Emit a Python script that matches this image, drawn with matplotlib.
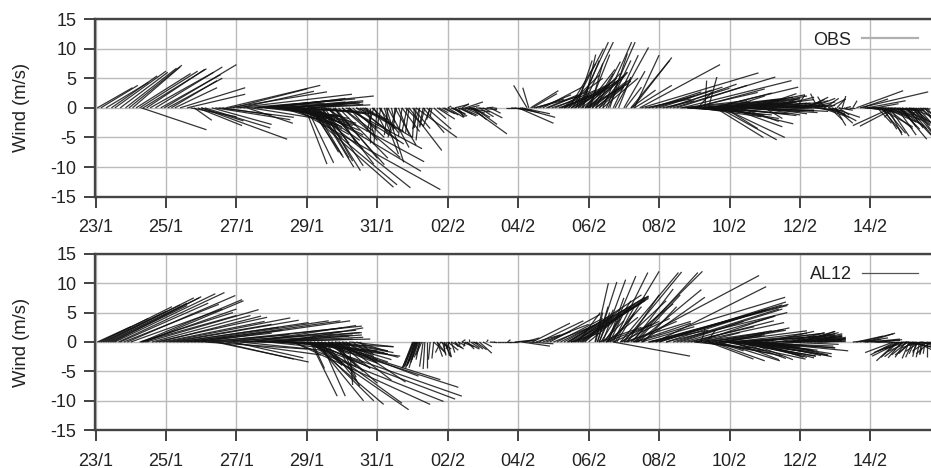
import matplotlib
matplotlib.use("Agg")
import matplotlib.pyplot as plt

plt.rcParams['font.family'] = ['Liberation Sans', 'DejaVu Sans']
plt.rcParams['axes.unicode_minus'] = False

# days since 23/1
tick_days = [0, 2, 4, 6, 8, 10, 12, 14, 16, 18, 20, 22]
tick_labels = ['23/1', '25/1', '27/1', '29/1', '31/1', '02/2',
               '04/2', '06/2', '08/2', '10/2', '12/2', '14/2']
wind_ticks = [-15, -10, -5, 0, 5, 10, 15]

# =============================
# OBS sticks: start day, end day, v (m/s)
# =============================
obs_start = [
    0.05, 0.15, 0.3, 0.45, 0.55, 0.7, 0.85, 0.95, 1.05, 1.15,
    1.25, 1.35, 1.45, 1.55, 1.7, 1.85, 1.95, 2.05, 2.15, 2.25,
    2.4, 2.6, 1.3, 2.8, 2.7, 2.9, 3.0, 3.1, 3.0, 3.3,
    3.4, 3.5, 3.6, 3.7, 3.8, 3.9, 4.0, 4.1, 4.2, 4.3,
    4.4, 4.5, 4.6, 4.7, 4.8, 4.9, 5.0, 5.1, 5.2, 5.3,
    5.4, 5.5, 5.6, 5.7, 5.8, 5.9, 6.0, 6.1, 5.3, 5.5,
    5.95, 6.0, 6.1, 6.15, 6.2, 6.3, 6.35, 6.4, 6.45, 6.5,
    5.9, 5.95, 6.65, 6.1, 6.75, 6.8, 5.6, 6.9, 6.2, 6.5,
    7.0, 7.1, 7.15, 7.2, 7.3, 7.4, 7.5, 7.55, 7.6, 7.65,
    7.7, 7.8, 7.85, 7.9, 8.0, 8.05, 8.1, 8.2, 8.25, 8.3,
    8.4, 8.5, 8.55, 8.6, 8.7, 8.8, 8.85, 8.9, 9.0, 9.05,
    9.1, 9.2, 9.3, 9.35, 9.4, 9.5, 9.55, 9.6, 9.7, 9.75,
    9.85, 10.0, 10.1, 10.15, 10.2, 10.3, 10.35, 10.4, 10.5, 10.55,
    10.6, 10.65, 10.7, 10.75, 10.8, 10.9, 11.0, 11.1, 11.2, 11.3,
    11.65, 11.8, 11.9, 12.0, 12.05, 12.1, 12.25, 12.3, 12.35, 12.4,
    12.45, 12.5, 12.6, 12.7, 12.8, 12.85, 12.95, 13.05, 13.15, 13.25,
    13.35, 13.45, 13.55, 13.65, 13.7, 13.75, 13.8, 13.85, 13.9, 13.95,
    14.0, 14.05, 14.1, 14.2, 14.3, 14.4, 14.5, 14.55, 14.6, 14.7,
    14.75, 14.85, 15.3, 15.0, 15.05, 15.25, 15.2, 15.2, 15.3, 15.45,
    15.5, 15.6, 15.7, 15.8, 15.9, 16.0, 16.1, 16.2, 16.3, 16.4,
    16.5, 16.65, 16.7, 16.8, 16.9, 17.0, 17.1, 17.2, 17.3, 17.4,
    17.5, 17.55, 17.6, 17.7, 17.75, 17.8, 17.85, 17.9, 17.95, 18.0,
    18.1, 18.2, 18.3, 18.35, 18.4, 18.5, 18.6, 18.7, 18.75, 18.8,
    18.9, 19.0, 19.1, 19.2, 19.3, 19.4, 19.5, 19.6, 19.7, 19.8,
    19.9, 20.0, 20.1, 20.2, 20.3, 20.4, 20.5, 20.6, 20.7, 20.8,
    20.85, 20.9, 21.0, 21.05, 21.1, 21.2, 21.25, 21.3, 21.4, 21.5,
    21.6, 21.7, 21.75, 21.8, 21.9, 22.0, 22.1, 22.15, 22.6, 22.7,
    22.2, 22.25, 22.3, 22.35, 22.4, 22.45, 22.5, 22.55, 22.65, 22.75,
    22.8, 22.85, 22.9, 23.0, 23.05, 23.1, 23.15, 23.2, 23.25, 23.3,
    23.35, 23.4, 23.45, 23.5, 23.55, 23.6, 22.0, 22.05, 21.85, 21.95,
    4.6, 4.8, 5.0, 5.2, 5.4, 5.6, 5.8, 6.0, 6.2, 6.4,
    5.6, 5.8, 6.0, 6.2, 6.4, 6.6, 6.8, 7.0, 7.2, 7.4,
    16.6, 16.8, 17.0, 17.2, 17.4, 17.6, 17.8, 18.0, 18.2, 18.4,
    13.9, 14.0, 14.1, 14.2, 14.3, 14.4, 13.5, 13.6, 13.2, 13.3,
    9.9, 10.0, 10.1, 10.2, 10.3, 10.4, 10.45, 10.5, 10.6, 10.7,
    16.8, 17.0, 17.1, 17.2, 17.3, 17.4, 17.5, 17.6, 17.7, 17.8,
    17.9, 18.0, 18.1, 18.2, 18.3, 18.4, 18.5, 18.6, 18.7, 18.8,
    13.3, 13.4, 13.5, 13.6, 13.7, 13.8, 13.9, 14.0, 14.1, 14.2,
    5.0, 5.2, 5.4, 5.5, 5.6, 5.7, 5.8, 5.9, 6.0, 6.1,
    22.3, 22.4, 22.5, 22.6, 22.7, 22.8, 22.9, 23.0, 23.1, 23.2,
    8.1, 8.3, 8.5, 8.7, 8.9, 9.1, 9.3, 9.5, 9.2, 7.9,
    20.0, 20.2, 20.4, 20.6, 20.8, 20.9, 21.0, 21.1, 20.5, 20.7,
]
obs_end = [
    1.05, 1.2, 1.5, 1.75, 2.0, 2.05, 2.3, 2.45, 2.4, 2.7,
    2.9, 3.15, 3.1, 3.35, 3.6, 3.55, 4.0, 3.6, 3.45, 3.45,
    4.25, 4.25, 3.15, 3.3, 4.0, 4.16, 4.2, 4.96, 5.44, 5.0,
    5.53, 5.63, 5.0, 6.38, 6.57, 6.0, 7.28, 6.2, 7.37, 5.6,
    6.3, 7.0, 7.9, 6.6, 6.8, 6.4, 7.1, 6.9, 7.4, 6.8,
    7.5, 7.0, 7.3, 7.2, 7.8, 7.0, 7.6, 7.4, 6.6, 6.8,
    6.57, 6.76, 7.04, 6.9, 7.0, 7.33, 7.2, 7.52, 7.3, 7.6,
    8.46, 8.56, 7.9, 8.94, 8.2, 8.0, 9.79, 8.3, 9.24, 9.33,
    8.65, 9.27, 8.75, 8.0, 8.2, 8.4, 8.6, 9.0, 8.75, 8.5,
    7.9, 7.8, 8.5, 8.3, 7.9, 8.6, 8.6, 8.4, 8.75, 8.9,
    8.5, 9.1, 8.3, 8.9, 9.2, 9.3, 8.7, 9.83, 9.5, 9.0,
    10.26, 9.0, 9.9, 9.2, 10.1, 9.3, 9.5, 9.95, 10.2, 10.0,
    10.2, 10.1, 10.4, 10.5, 10.6, 10.45, 10.8, 10.6, 11.0, 11.2,
    10.9, 11.68, 11.1, 11.4, 11.4, 11.3, 11.55, 11.3, 11.5, 11.4,
    11.9, 12.4, 12.6, 13.0, 13.05, 12.9, 11.87, 12.13, 13.14, 13.1,
    13.8, 13.3, 13.5, 13.85, 13.7, 14.0, 14.1, 14.2, 13.9, 14.4,
    14.3, 14.2, 14.42, 14.1, 14.56, 14.3, 14.7, 14.2, 14.75, 14.9,
    14.6, 14.4, 15.0, 14.9, 15.0, 15.22, 15.32, 15.2, 15.1, 15.41,
    15.7, 15.2, 16.0, 15.6, 15.5, 16.36, 16.3, 15.9, 16.36, 17.73,
    18.82, 16.9, 17.0, 17.2, 17.5, 17.8, 17.0, 18.0, 18.2, 19.3,
    18.5, 19.76, 18.6, 18.2, 18.8, 19.0, 17.5, 18.9, 17.35, 17.64,
    19.95, 19.2, 18.96, 19.34, 19.5, 19.57, 18.8, 19.81, 19.0, 19.5,
    19.8, 20.14, 19.4, 20.0, 20.2, 19.6, 20.4, 19.9, 20.3, 20.0,
    20.2, 19.5, 20.75, 20.4, 19.9, 20.3, 20.4, 20.6, 20.8, 20.9,
    20.14, 20.6, 20.7, 20.8, 21.0, 21.0, 20.8, 21.28, 21.1, 21.3,
    21.2, 21.7, 21.3, 21.28, 21.5, 21.3, 21.4, 21.45, 21.55, 21.62,
    22.93, 23.64, 22.5, 22.6, 23.0, 22.4, 23.5, 22.8, 21.5, 21.7,
    22.6, 23.2, 22.9, 22.75, 23.0, 23.2, 22.9, 23.1, 22.4, 23.3,
    23.4, 23.6, 23.3, 23.72, 23.5, 23.8, 23.7, 23.72, 23.6, 23.8,
    23.8, 23.9, 24.0, 24.0, 24.0, 24.0, 23.5, 23.7, 23.4, 23.3,
    6.5, 7.0, 7.3, 7.1, 7.5, 7.6, 7.7, 7.8, 7.6, 7.7,
    6.9, 7.2, 7.0, 7.5, 7.2, 7.6, 7.4, 7.9, 8.0, 8.3,
    18.5, 18.9, 19.2, 19.4, 19.6, 19.6, 19.8, 20.0, 20.0, 20.2,
    15.1, 15.2, 14.7, 15.0, 15.1, 15.4, 14.4, 14.6, 14.3, 14.5,
    10.3, 10.45, 10.5, 10.55, 10.7, 10.85, 10.9, 11.0, 11.05, 11.2,
    18.6, 18.8, 18.9, 19.2, 19.0, 19.4, 19.4, 19.5, 19.7, 19.9,
    19.9, 20.2, 20.0, 20.4, 20.2, 20.5, 20.6, 20.4, 20.7, 20.8,
    14.5, 14.6, 14.7, 14.9, 14.8, 15.0, 14.9, 15.1, 15.1, 15.2,
    6.3, 6.6, 6.8, 7.0, 7.2, 7.0, 7.4, 7.5, 7.3, 7.6,
    23.1, 23.3, 23.4, 23.5, 23.5, 23.6, 23.7, 23.7, 23.9, 23.9,
    8.0, 8.2, 8.45, 8.6, 8.8, 9.05, 9.2, 9.4, 9.1, 7.7,
    20.8, 21.0, 21.2, 21.4, 21.3, 21.6, 21.5, 21.4, 20.3, 20.5,
]
obs_v = [
    3.4, 3.8, 4.3, 5.4, 6.2, 6.0, 6.7, 7.2, 6.9, 5.8,
    6.2, 6.6, 6.5, 6.0, 6.9, 5.6, 7.3, 5.0, 4.6, 3.4,
    3.4, 2.3, -3.7, -2.1, -1.5, -3.0, -2.2, -3.4, -5.3, -2.8,
    -2.0, -1.6, -1.2, 3.8, 2.7, 3.2, 2.3, 2.8, 1.5, -2.6,
    -1.8, 1.3, 2.0, 1.2, -1.4, 1.0, 1.6, -1.3, 0.9, -2.0,
    0.8, -1.5, 1.0, -3.0, -1.0, -3.6, 0.6, -3.0, -2.5, -3.2,
    -9.5, -9.3, -8.4, -7.5, -8.0, -10.0, -8.5, -10.6, -9.0, -9.8,
    -13.4, -13.0, -9.5, -13.5, -9.6, -8.5, -13.8, -8.5, -10.7, -9.1,
    -8.4, -6.9, -6.1, -5.5, -5.0, -4.2, -5.6, -5.0, -4.0, -3.0,
    -4.5, -6.0, -3.5, -4.5, -6.2, -4.2, -7.8, -4.0, -9.2, -6.7,
    -2.5, -6.3, -5.0, -4.5, -4.0, -3.0, -4.0, -7.2, -3.5, -5.0,
    -5.0, -3.6, -4.2, -3.3, -3.6, -3.2, -1.5, -1.8, -1.9, -0.8,
    -1.0, 0.3, -0.8, -1.5, 0.6, -1.6, -1.4, 0.7, 1.0, -0.7,
    0.4, -4.4, -2.0, -2.8, -0.3, -1.5, -1.7, 0.1, -0.9, -0.1,
    0.0, -0.4, -0.8, -2.6, -1.6, -1.0, 3.8, 3.4, 2.9, 2.4,
    2.0, 1.5, 2.2, 3.6, 2.2, 2.8, 2.2, 3.0, 1.5, 5.0,
    5.5, 7.5, 10.0, 8.0, 11.1, 8.0, 11.1, 9.0, 6.5, 4.8,
    9.0, 7.5, 5.5, 7.8, 3.5, 11.1, 11.1, 8.0, 9.2, 8.9,
    10.2, 5.2, 8.9, 6.2, 3.5, 8.5, 8.0, 3.0, 3.8, 7.3,
    5.9, 1.5, 2.0, 2.7, 3.0, 3.5, 1.2, 3.3, 4.0, 5.2,
    3.8, 4.6, 1.0, -0.5, 2.6, 3.2, 2.7, -0.6, 4.6, 5.2,
    3.5, 2.5, -5.0, -5.4, 1.5, -5.0, -3.5, -2.7, 2.0, -3.2,
    0.8, 2.2, -2.3, 1.5, 0.5, 1.5, -0.5, 2.4, 0.8, -1.2,
    -1.0, -1.8, 0.3, 1.8, 1.5, 0.5, -0.2, 0.8, 0.3, 0.5,
    2.2, 0.2, 1.4, 1.8, 1.6, 0.4, -0.3, -1.0, 1.6, 1.5,
    -2.0, -1.6, -3.0, 1.5, -0.4, 2.0, -0.3, 0.2, 0.0, 1.2,
    2.9, 2.7, 1.5, -0.2, 1.2, -0.3, -0.4, 0.7, -3.0, -3.1,
    -2.6, -3.2, -4.2, -3.6, -4.3, -3.5, -4.6, -4.8, -1.6, -4.6,
    -3.6, -5.3, -3.2, -4.6, -3.4, -5.0, -2.8, -4.0, -2.0, -4.5,
    -3.0, -2.5, -3.5, -2.0, -4.0, -3.0, -0.5, -0.2, -0.9, -1.2,
    0.8, 0.5, -0.5, 1.0, -0.6, 1.2, -0.8, 0.5, 1.0, -1.0,
    -3.0, -4.5, -5.0, -5.5, -6.0, -7.0, -6.0, -4.0, -3.5, -2.0,
    1.2, 0.6, -1.2, 1.5, -1.0, 0.8, 1.8, -0.6, 1.2, 0.4,
    4.0, 4.5, 5.8, 3.6, 6.0, 5.0, 2.8, 3.5, 2.4, 3.2,
    -1.2, -1.6, -1.0, -1.4, -1.1, -1.3, -0.5, -1.4, -0.9, -1.6,
    -0.8, 0.5, -1.5, 0.9, -1.2, 1.4, -1.8, 0.6, -1.0, 1.0,
    -1.3, 0.8, 1.6, -0.5, 2.0, -0.8, 0.9, 1.4, 0.5, -0.6,
    3.8, 3.9, 4.4, 4.8, 5.0, 5.4, 5.8, 6.0, 4.6, 4.9,
    -1.0, -1.5, -2.0, -2.5, -1.8, -3.2, -2.6, -3.8, -3.0, -4.6,
    -1.5, -2.4, -2.0, -3.0, -2.2, -3.5, -2.4, -3.0, -1.8, -3.4,
    -3.0, -4.6, -3.8, -4.8, -4.2, -3.4, -3.0, -2.0, -5.5, -4.0,
    1.2, 1.0, -0.5, -1.6, -1.2, -2.2, -2.6, -1.2, 2.4, 1.9,
]

# =============================
# AL12 sticks: start day, end day, v (m/s)
# =============================
al12_start = [
    0.05, 0.1, 0.15, 0.2, 0.25, 0.3, 0.35, 0.4, 0.45, 0.5,
    0.55, 0.65, 0.7, 0.8, 0.9, 1.0, 1.3, 1.4, 1.25, 1.35,
    1.3, 1.45, 1.6, 1.7, 1.8, 1.9, 2.0, 2.1, 2.2, 2.3,
    2.4, 2.5, 2.6, 2.7, 2.8, 2.9, 3.0, 3.1, 3.2, 3.3,
    3.4, 3.5, 3.6, 3.7, 3.8, 3.9, 4.0, 4.1, 4.2, 4.3,
    4.4, 4.5, 4.6, 4.7, 4.8, 4.9, 5.0, 5.1, 5.2, 5.3,
    6.1, 6.4, 6.24, 6.2, 6.1, 6.3, 6.1, 5.6, 5.6, 5.9,
    6.0, 6.3, 6.4, 6.6, 6.7, 6.8, 6.9, 7.0, 7.1, 7.2,
    5.2, 5.4, 5.6, 5.8, 6.0, 6.15, 6.2, 6.3, 6.35, 6.5,
    6.6, 6.7, 6.8, 6.9, 7.0, 7.1, 7.2, 7.3, 7.4, 7.5,
    9.03, 9.05, 9.08, 9.1, 9.12, 9.15, 9.2, 9.4, 9.5, 9.6,
    9.7, 9.8, 9.85, 9.9, 9.95, 10.0, 10.05, 10.1, 10.2, 10.3,
    10.4, 10.5, 10.55, 10.6, 10.65, 10.7, 10.75, 10.8, 10.9, 11.0,
    11.1, 11.2, 11.3, 11.4, 11.5, 11.6, 11.7, 11.75, 11.9, 12.0,
    12.1, 12.2, 12.3, 12.4, 12.5, 12.6, 12.7, 12.8, 12.9, 13.0,
    13.1, 13.2, 13.3, 13.4, 13.5, 13.6, 13.7, 13.8, 13.9, 14.0,
    14.18, 14.25, 14.3, 14.4, 14.5, 14.55, 14.6, 14.7, 14.75, 14.8,
    13.4, 13.45, 13.5, 13.55, 13.6, 13.65, 13.7, 13.75, 13.8, 13.85,
    14.9, 15.0, 15.1, 15.2, 15.25, 15.3, 15.35, 15.4, 15.5, 15.55,
    15.27, 15.9, 15.35, 15.7, 16.0, 15.75, 15.8, 16.2, 14.7, 15.0,
    15.9, 16.0, 16.2, 16.4, 16.5, 16.6, 16.7, 16.8, 16.9, 17.0,
    17.05, 17.1, 17.2, 17.25, 17.3, 17.35, 17.4, 17.5, 17.6, 17.7,
    17.7, 17.8, 17.9, 18.0, 18.05, 18.1, 18.2, 18.3, 18.4, 18.5,
    18.6, 18.7, 18.8, 18.9, 19.0, 19.1, 19.2, 19.3, 19.4, 19.5,
    19.6, 19.7, 19.8, 19.9, 20.0, 20.1, 20.2, 20.3, 20.4, 20.5,
    17.0, 17.2, 17.4, 17.6, 17.8, 18.0, 18.2, 18.4, 18.6, 18.8,
    21.5, 21.6, 21.7, 21.8, 21.85, 21.9, 22.0, 22.1, 22.15, 22.2,
    22.65, 22.7, 22.75, 22.8, 22.85, 22.9, 22.95, 23.0, 23.05, 23.1,
    23.15, 23.2, 23.25, 23.3, 23.35, 23.4, 23.45, 23.5, 23.55, 23.6,
    23.0, 23.2, 23.3, 23.4, 23.5, 23.6, 23.65, 23.7, 23.0, 22.9,
    14.3, 14.5, 14.7, 14.9, 15.1, 15.3, 15.5, 15.7, 14.95, 15.05,
    9.0, 9.02, 9.06, 9.1, 9.14, 9.18, 9.22, 9.26, 9.3, 9.35,
    14.2, 14.25, 14.3, 14.35, 14.4, 14.45, 14.5, 14.55, 14.6, 14.65,
    17.3, 17.5, 17.6, 17.7, 17.8, 17.9, 18.0, 18.1, 18.3, 18.5,
    18.2, 18.4, 18.6, 18.8, 19.0, 19.2, 18.1, 18.3, 18.5, 18.7,
    19.7, 19.9, 20.0, 20.1, 20.2, 20.3, 20.4, 20.5, 20.6, 20.7,
    23.0, 23.1, 23.2, 23.3, 23.4, 23.5, 23.6, 23.7, 22.9, 22.8,
    6.0, 6.1, 6.2, 6.3, 6.4, 6.5, 6.6, 6.7, 6.8, 6.9,
    9.6, 9.7, 9.8, 9.9, 10.0, 10.1, 10.2, 10.3, 10.4, 10.5,
]
al12_end = [
    1.0, 1.5, 2.17, 2.0, 2.4, 2.79, 2.6, 2.94, 2.6, 3.0,
    3.4, 3.66, 3.2, 3.5, 3.97, 3.6, 4.16, 4.2, 3.9, 4.0,
    4.0, 4.63, 4.4, 4.87, 4.7, 4.8, 5.53, 5.0, 5.77, 5.2,
    6.05, 5.3, 6.62, 5.0, 6.95, 5.5, 7.23, 6.0, 7.56, 7.56,
    6.05, 5.63, 7.0, 6.4, 7.4, 5.9, 7.3, 6.6, 7.8, 7.0,
    7.4, 7.2, 7.6, 7.0, 7.5, 6.5, 7.56, 7.3, 7.2, 7.6,
    6.86, 7.09, 7.61, 7.9, 8.18, 8.7, 8.89, 9.5, 9.88, 10.21,
    10.4, 10.3, 9.79, 9.17, 8.0, 7.5, 7.4, 8.4, 8.8, 7.3,
    8.0, 8.46, 8.65, 8.3, 8.2, 6.5, 7.0, 7.3, 7.0, 7.4,
    7.6, 7.4, 8.0, 7.8, 8.3, 8.0, 8.46, 7.9, 8.3, 7.9,
    8.7, 8.75, 8.8, 8.85, 8.9, 8.95, 9.1, 9.4, 9.45, 9.55,
    9.85, 9.65, 9.95, 9.9, 10.05, 10.1, 9.95, 10.2, 10.3, 10.35,
    10.5, 10.45, 10.75, 10.6, 10.9, 10.85, 11.0, 11.1, 11.25, 11.25,
    11.15, 11.4, 11.3, 11.5, 11.6, 11.8, 11.78, 12.0, 12.4, 12.5,
    12.9, 12.6, 13.0, 13.47, 13.2, 13.85, 14.0, 13.5, 14.33, 14.0,
    14.4, 14.2, 14.5, 14.6, 14.3, 14.7, 14.33, 14.9, 14.4, 15.2,
    14.56, 14.8, 14.6, 15.05, 14.9, 15.34, 15.0, 15.68, 15.3, 16.0,
    15.7, 15.5, 15.6, 15.7, 15.3, 15.6, 15.5, 15.7, 15.6, 15.7,
    16.55, 16.64, 16.0, 17.23, 16.4, 17.1, 16.6, 17.2, 17.3, 16.5,
    18.84, 19.04, 19.58, 19.67, 19.6, 19.64, 19.5, 19.64, 16.88, 16.9,
    18.8, 19.0, 19.1, 19.4, 19.5, 18.4, 19.3, 18.7, 19.26, 19.55,
    19.53, 19.26, 17.3, 18.3, 19.0, 17.6, 18.68, 19.0, 18.4, 20.2,
    19.43, 18.9, 20.16, 19.0, 20.45, 20.3, 20.95, 20.6, 21.0, 20.8,
    20.5, 20.7, 21.37, 21.0, 20.4, 21.2, 20.8, 21.0, 21.0, 21.1,
    21.0, 21.2, 20.9, 21.3, 21.0, 21.2, 21.3, 21.2, 21.3, 21.3,
    18.6, 18.9, 19.2, 19.5, 19.8, 20.1, 20.45, 20.3, 20.5, 20.9,
    22.3, 22.36, 22.65, 22.5, 22.84, 22.7, 22.84, 22.6, 22.9, 22.9,
    21.85, 22.0, 22.17, 22.3, 22.05, 22.5, 22.4, 22.7, 22.6, 22.9,
    22.8, 23.0, 23.1, 23.2, 23.2, 23.3, 23.4, 23.4, 23.5, 23.6,
    23.72, 23.8, 23.8, 23.9, 24.0, 24.0, 24.0, 24.0, 23.6, 23.4,
    15.5, 15.8, 16.0, 16.3, 16.5, 16.9, 17.0, 17.4, 16.2, 16.4,
    8.72, 8.78, 8.84, 8.88, 8.92, 8.98, 9.05, 9.1, 9.2, 9.3,
    14.4, 14.55, 14.7, 14.85, 15.0, 15.2, 15.4, 15.0, 15.5, 15.3,
    19.0, 19.2, 19.4, 19.6, 19.8, 19.7, 20.0, 20.2, 20.3, 20.7,
    20.0, 20.2, 20.4, 20.6, 20.9, 20.4, 19.4, 19.6, 19.8, 20.1,
    20.7, 21.0, 21.0, 21.1, 21.2, 21.2, 21.2, 21.3, 21.3, 21.3,
    22.4, 22.5, 22.7, 22.9, 23.0, 23.1, 23.2, 23.3, 22.2, 22.1,
    7.4, 7.6, 7.8, 7.2, 8.0, 7.8, 8.3, 8.4, 8.46, 8.6,
    9.9, 9.95, 10.1, 10.1, 10.3, 10.4, 10.45, 10.5, 10.75, 10.9,
]
al12_v = [
    2.6, 4.0, 6.0, 5.2, 6.3, 7.5, 6.6, 7.5, 6.2, 7.7,
    8.2, 8.4, 6.6, 6.4, 7.9, 5.6, 7.2, 7.0, 5.0, 5.6,
    4.5, 5.5, 4.5, 4.2, 4.4, 3.5, 4.1, 3.0, 3.7, 2.5,
    3.3, 2.0, 3.6, 1.5, 3.6, 1.2, 3.6, -1.2, 2.7, 1.6,
    -3.4, -2.9, 2.4, -2.2, 2.0, -2.7, 1.2, -1.5, 0.5, 1.8,
    2.8, 1.0, 0.8, -0.4, 1.6, -1.0, 1.2, 0.5, -0.6, 2.4,
    -9.2, -9.2, -10.0, -10.0, -10.6, -10.4, -11.5, -10.6, -10.1, -9.7,
    -9.2, -7.7, -6.4, -5.8, -7.0, -7.5, -6.0, -6.5, -6.8, -7.3,
    -1.5, -0.8, -2.4, -2.0, -1.8, -4.5, -3.5, -5.0, -4.0, -6.5,
    -5.0, -4.0, -3.5, -4.5, -1.5, -3.0, -0.8, -2.5, -1.6, -2.2,
    -4.5, -4.3, -4.5, -4.0, -4.4, -3.5, -3.0, -4.4, -3.0, -2.8,
    -2.5, -1.8, -2.3, -1.5, -2.4, -2.5, -1.2, -1.8, -0.8, -0.5,
    0.4, -0.8, -1.2, 0.5, -1.0, -0.3, -1.2, -1.3, -1.9, -0.8,
    0.4, -0.1, 0.1, 0.0, 0.0, 0.0, 0.4, 0.0, 0.3, 0.3,
    -0.7, 0.7, -0.3, 3.2, 1.2, 3.6, 3.0, 1.8, 4.7, 2.4,
    4.0, 3.0, 4.0, 4.4, 1.5, 4.6, 5.0, 5.6, 3.0, 6.0,
    10.0, 10.2, 5.0, 10.6, 4.0, 11.2, 5.0, 11.8, 6.0, 12.0,
    7.8, 8.0, 7.6, 7.4, 6.4, 7.0, 6.6, 7.8, 7.2, 7.6,
    11.8, 11.9, 8.0, 12.0, 9.0, 11.8, 8.0, 8.9, 7.6, 6.0,
    11.3, 9.4, 7.6, 6.4, 6.8, 6.2, 6.3, 5.0, -2.4, 3.5,
    5.0, 5.4, 5.6, 5.6, 5.6, 3.5, 4.4, 2.6, 3.6, 3.3,
    2.1, 4.4, 2.2, 1.6, 1.2, 2.0, -2.9, -3.2, -1.5, 1.9,
    -3.2, 1.0, -2.9, -1.5, -2.4, 0.8, -0.7, 1.4, -1.0, -2.3,
    1.0, 1.5, -1.5, -1.0, 1.8, 0.2, -2.2, 1.4, 0.8, -0.4,
    1.2, 0.4, 1.3, 0.6, 1.8, 1.0, 0.5, 0.8, 0.2, 0.1,
    -1.0, -1.5, -2.0, -2.4, -1.0, -1.6, -2.4, -1.8, -1.4, -2.0,
    0.4, 1.0, 1.4, 0.7, 0.3, 1.5, 0.5, 0.2, -0.1, 0.4,
    -1.8, -2.2, -3.2, -2.6, -2.4, -2.7, -2.5, -2.6, -2.2, -2.8,
    -2.0, -2.6, -2.0, -2.5, -1.8, -2.6, -2.0, -2.2, -2.0, -2.5,
    -0.8, -1.0, -1.5, -0.5, -1.3, -0.8, -1.8, -1.0, -0.2, -0.4,
    2.5, 3.0, 3.5, 4.0, 3.5, 3.2, 2.6, 2.0, 7.0, 6.5,
    -4.4, -4.2, -4.0, -3.6, -3.2, -3.0, -2.6, -2.2, -4.2, -4.6,
    5.0, 6.0, 5.5, 4.8, 3.6, 7.0, 4.2, 7.5, 6.0, 5.0,
    1.5, 1.9, 0.5, 2.0, -0.4, 2.4, -0.8, 1.5, -1.3, 1.0,
    -2.2, -2.6, -2.7, -2.3, -2.5, -1.6, -3.0, -2.8, -3.0, -2.6,
    1.6, 1.0, 1.8, 1.6, 1.4, 1.2, 1.0, 0.8, 0.6, 0.4,
    -1.2, -1.6, -2.2, -1.0, -1.6, -0.6, -1.5, -2.0, -1.6, -1.8,
    -4.2, -3.6, -4.4, -2.0, -3.6, -2.4, -3.4, -3.0, -1.8, -2.6,
    -1.6, -2.0, -1.2, -2.6, -1.4, -1.0, -1.2, -0.6, -0.8, -1.2,
]


def draw_panel(ax, start, end, v, name, legend_color, legend_lw):
    for t0, t1, vv in zip(start, end, v):
        ax.plot([t0, t1], [0, vv], color="#111111", lw=0.9, alpha=0.85,
                solid_capstyle="butt", zorder=3)
    ax.set_xlim(-0.03, 23.72)
    ax.set_ylim(-15, 15)
    ax.set_xticks(tick_days)
    ax.set_xticklabels(tick_labels)
    ax.set_yticks(wind_ticks)
    ax.set_ylabel("Wind (m/s)", fontsize=13.2, color="#222222")
    ax.yaxis.set_label_coords(-0.077, 0.5)
    ax.grid(True, color="#bbbbbb", lw=1.0)
    ax.set_axisbelow(True)
    ax.tick_params(axis="both", length=8, width=1.3, color="#333333",
                   labelsize=13, labelcolor="#222222")
    ax.tick_params(axis="x", pad=8)
    ax.tick_params(axis="y", pad=5)
    for side in ["top", "bottom", "left"]:
        ax.spines[side].set_linewidth(1.7)
        ax.spines[side].set_color("#444444")
    ax.spines["right"].set_visible(False)
    ax.plot([], [], color=legend_color, lw=legend_lw, label=name)
    ax.legend(loc="upper right", bbox_to_anchor=(1.0, 1.0), frameon=False,
              markerfirst=False, fontsize=13, handlelength=3.1,
              handletextpad=0.6, borderaxespad=0.3, labelcolor="#222222")


fig = plt.figure(figsize=(9.31, 4.68), dpi=100)
W, H = 931.0, 468.0
ax1 = fig.add_axes([94.5 / W, 1 - 196.7 / H, (931 - 94.5) / W, (196.7 - 19) / H])
ax2 = fig.add_axes([94.5 / W, 1 - 430.3 / H, (931 - 94.5) / W, (430.3 - 253.7) / H])

draw_panel(ax1, obs_start, obs_end, obs_v, "OBS", "#b0b0b0", 1.6)
draw_panel(ax2, al12_start, al12_end, al12_v, "AL12", "#555555", 0.9)

fig.savefig("out.png", dpi=100)
